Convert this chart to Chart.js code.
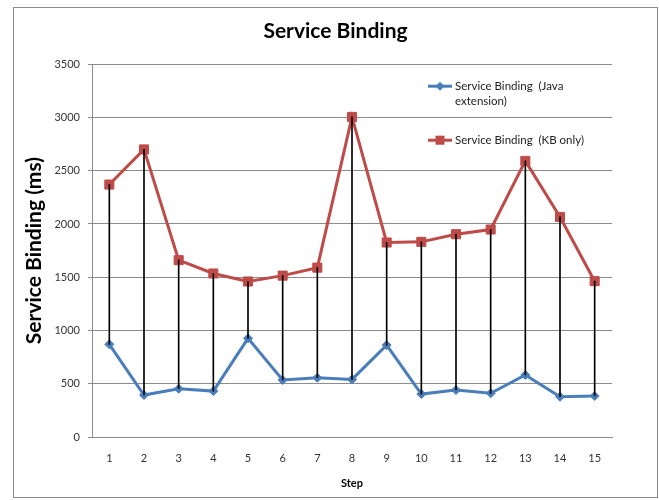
<!DOCTYPE html>
<html>
<head>
<meta charset="utf-8">
<title>Service Binding</title>
<script src="https://cdn.jsdelivr.net/npm/chart.js@4/dist/chart.umd.min.js"></script>
<style>
  html, body { margin: 0; padding: 0; background: #fff; }
  #wrap { width: 659px; height: 500px; position: relative; }
</style>
</head>
<body>
<div id="wrap"><canvas id="chart" width="659" height="500"></canvas></div>
<script>
const steps = ["1", "2", "3", "4", "5", "6", "7", "8", "9", "10", "11", "12", "13", "14", "15"];
const javaExtension = [870, 394, 453, 431, 926, 535, 556, 541, 863, 403, 441, 410, 582, 378, 385];
const kbOnly = [2370, 2700, 1660, 1535, 1460, 1515, 1590, 3005, 1826, 1832, 1904, 1948, 2592, 2066, 1463];
const yTicks = [0, 500, 1000, 1500, 2000, 2500, 3000, 3500];

const FONT = "Lato, 'Open Sans', sans-serif";
const GRID = "#8c8c8c";

// high-low lines between the two series
const highLow = steps.map((_, i) => [
  Math.min(javaExtension[i], kbOnly[i]),
  Math.max(javaExtension[i], kbOnly[i]),
]);

const frame = {
  id: "frame",
  beforeDraw(chart) {
    const ctx = chart.ctx;
    ctx.save();
    ctx.fillStyle = "#fff";
    ctx.fillRect(0, 0, chart.width, chart.height);
    ctx.strokeStyle = GRID;
    ctx.lineWidth = 1;
    ctx.strokeRect(13.5, 7.5, 644, 490);
    ctx.restore();
  },
};

function wrapText(ctx, text, maxWidth) {
  const words = text.split(" ");
  const lines = [];
  let line = "";
  for (const word of words) {
    const test = line ? line + " " + word : word;
    if (line && ctx.measureText(test).width > maxWidth) {
      lines.push(line);
      line = word;
    } else {
      line = test;
    }
  }
  if (line) lines.push(line);
  return lines;
}

const sideLegend = {
  id: "sideLegend",
  afterDraw(chart) {
    const ctx = chart.ctx;
    const area = chart.chartArea;
    const entries = [chart.data.datasets[0], chart.data.datasets[1]];
    const rows = [area.top + 22, area.top + 76];
    ctx.save();
    ctx.font = `11.5px ${FONT}`;
    ctx.textBaseline = "middle";
    entries.forEach((ds, k) => {
      const y = rows[k];
      const x0 = area.left + 336;
      ctx.strokeStyle = ds.borderColor;
      ctx.lineWidth = 3;
      ctx.beginPath();
      ctx.moveTo(x0, y);
      ctx.lineTo(x0 + 24, y);
      ctx.stroke();
      ctx.fillStyle = ds.borderColor;
      if (ds.pointStyle === "rect") {
        ctx.fillRect(x0 + 12 - 4.5, y - 4.5, 9, 9);
      } else {
        ctx.beginPath();
        ctx.moveTo(x0 + 12, y - 4.5);
        ctx.lineTo(x0 + 16.5, y);
        ctx.lineTo(x0 + 12, y + 4.5);
        ctx.lineTo(x0 + 7.5, y);
        ctx.closePath();
        ctx.fill();
      }
      ctx.fillStyle = "#222";
      const lines = wrapText(ctx, ds.label, 130);
      lines.forEach((t, j) => ctx.fillText(t, x0 + 27, y + j * 15));
    });
    ctx.restore();
  },
};

new Chart(document.getElementById("chart"), {
  data: {
    labels: steps,
    datasets: [
      {
        type: "line",
        label: "Service Binding  (Java extension)",
        data: javaExtension,
        borderColor: "#4a7ebb",
        backgroundColor: "#4a7ebb",
        borderWidth: 3,
        tension: 0,
        pointStyle: "rectRot",
        pointRadius: 4.5,
        pointBorderWidth: 1,
        order: 1,
      },
      {
        type: "line",
        label: "Service Binding  (KB only)",
        data: kbOnly,
        borderColor: "#be4b48",
        backgroundColor: "#be4b48",
        borderWidth: 3,
        tension: 0,
        pointStyle: "rect",
        pointRadius: 6.4,
        pointBorderWidth: 1,
        order: 2,
      },
      {
        type: "bar",
        label: "high-low",
        data: highLow,
        backgroundColor: "#000",
        borderWidth: 0,
        barThickness: 1,
        order: 0,
      },
    ],
  },
  options: {
    responsive: false,
    animation: false,
    devicePixelRatio: 1,
    layout: { padding: { left: 12, right: 0, top: 0, bottom: 0 } },
    plugins: {
      legend: { display: false },
      tooltip: { enabled: false },
      title: {
        display: true,
        text: "Service Binding",
        color: "#000",
        font: { family: FONT, size: 21, weight: "bold" },
        padding: { top: 19, bottom: 20 },
      },
    },
    scales: {
      x: {
        offset: true,
        grid: { display: true, drawOnChartArea: false, drawTicks: false },
        border: { display: true, color: GRID },
        ticks: { color: "#333", font: { family: FONT, size: 11 }, padding: 15 },
        title: {
          display: true,
          text: "Step",
          color: "#000",
          font: { family: FONT, size: 11, weight: "bold" },
          padding: { top: 10, bottom: 10 },
        },
        afterFit: (scale) => { scale.height = 63; },
      },
      y: {
        min: 0,
        max: 3500,
        afterBuildTicks: (scale) => { scale.ticks = yTicks.map((v) => ({ value: v })); },
        grid: { color: GRID, tickLength: 4, drawTicks: true },
        border: { display: true, color: GRID },
        ticks: {
          color: "#333",
          font: { family: FONT, size: 11 },
          padding: 8,
          callback: (value) => String(value),
        },
        title: {
          display: true,
          text: "Service Binding (ms)",
          color: "#000",
          font: { family: FONT, size: 21, weight: "bold" },
          padding: { top: 10, bottom: 0 },
        },
        afterFit: (scale) => { scale.width = 80; },
      },
      // empty right axis, only reserves the gap right of the plot
      yRight: {
        position: "right",
        display: true,
        grid: { drawOnChartArea: false, drawTicks: false },
        border: { display: false },
        ticks: { display: false },
        afterFit: (scale) => { scale.width = 47; },
      },
    },
  },
  plugins: [frame, sideLegend],
});
</script>
</body>
</html>
